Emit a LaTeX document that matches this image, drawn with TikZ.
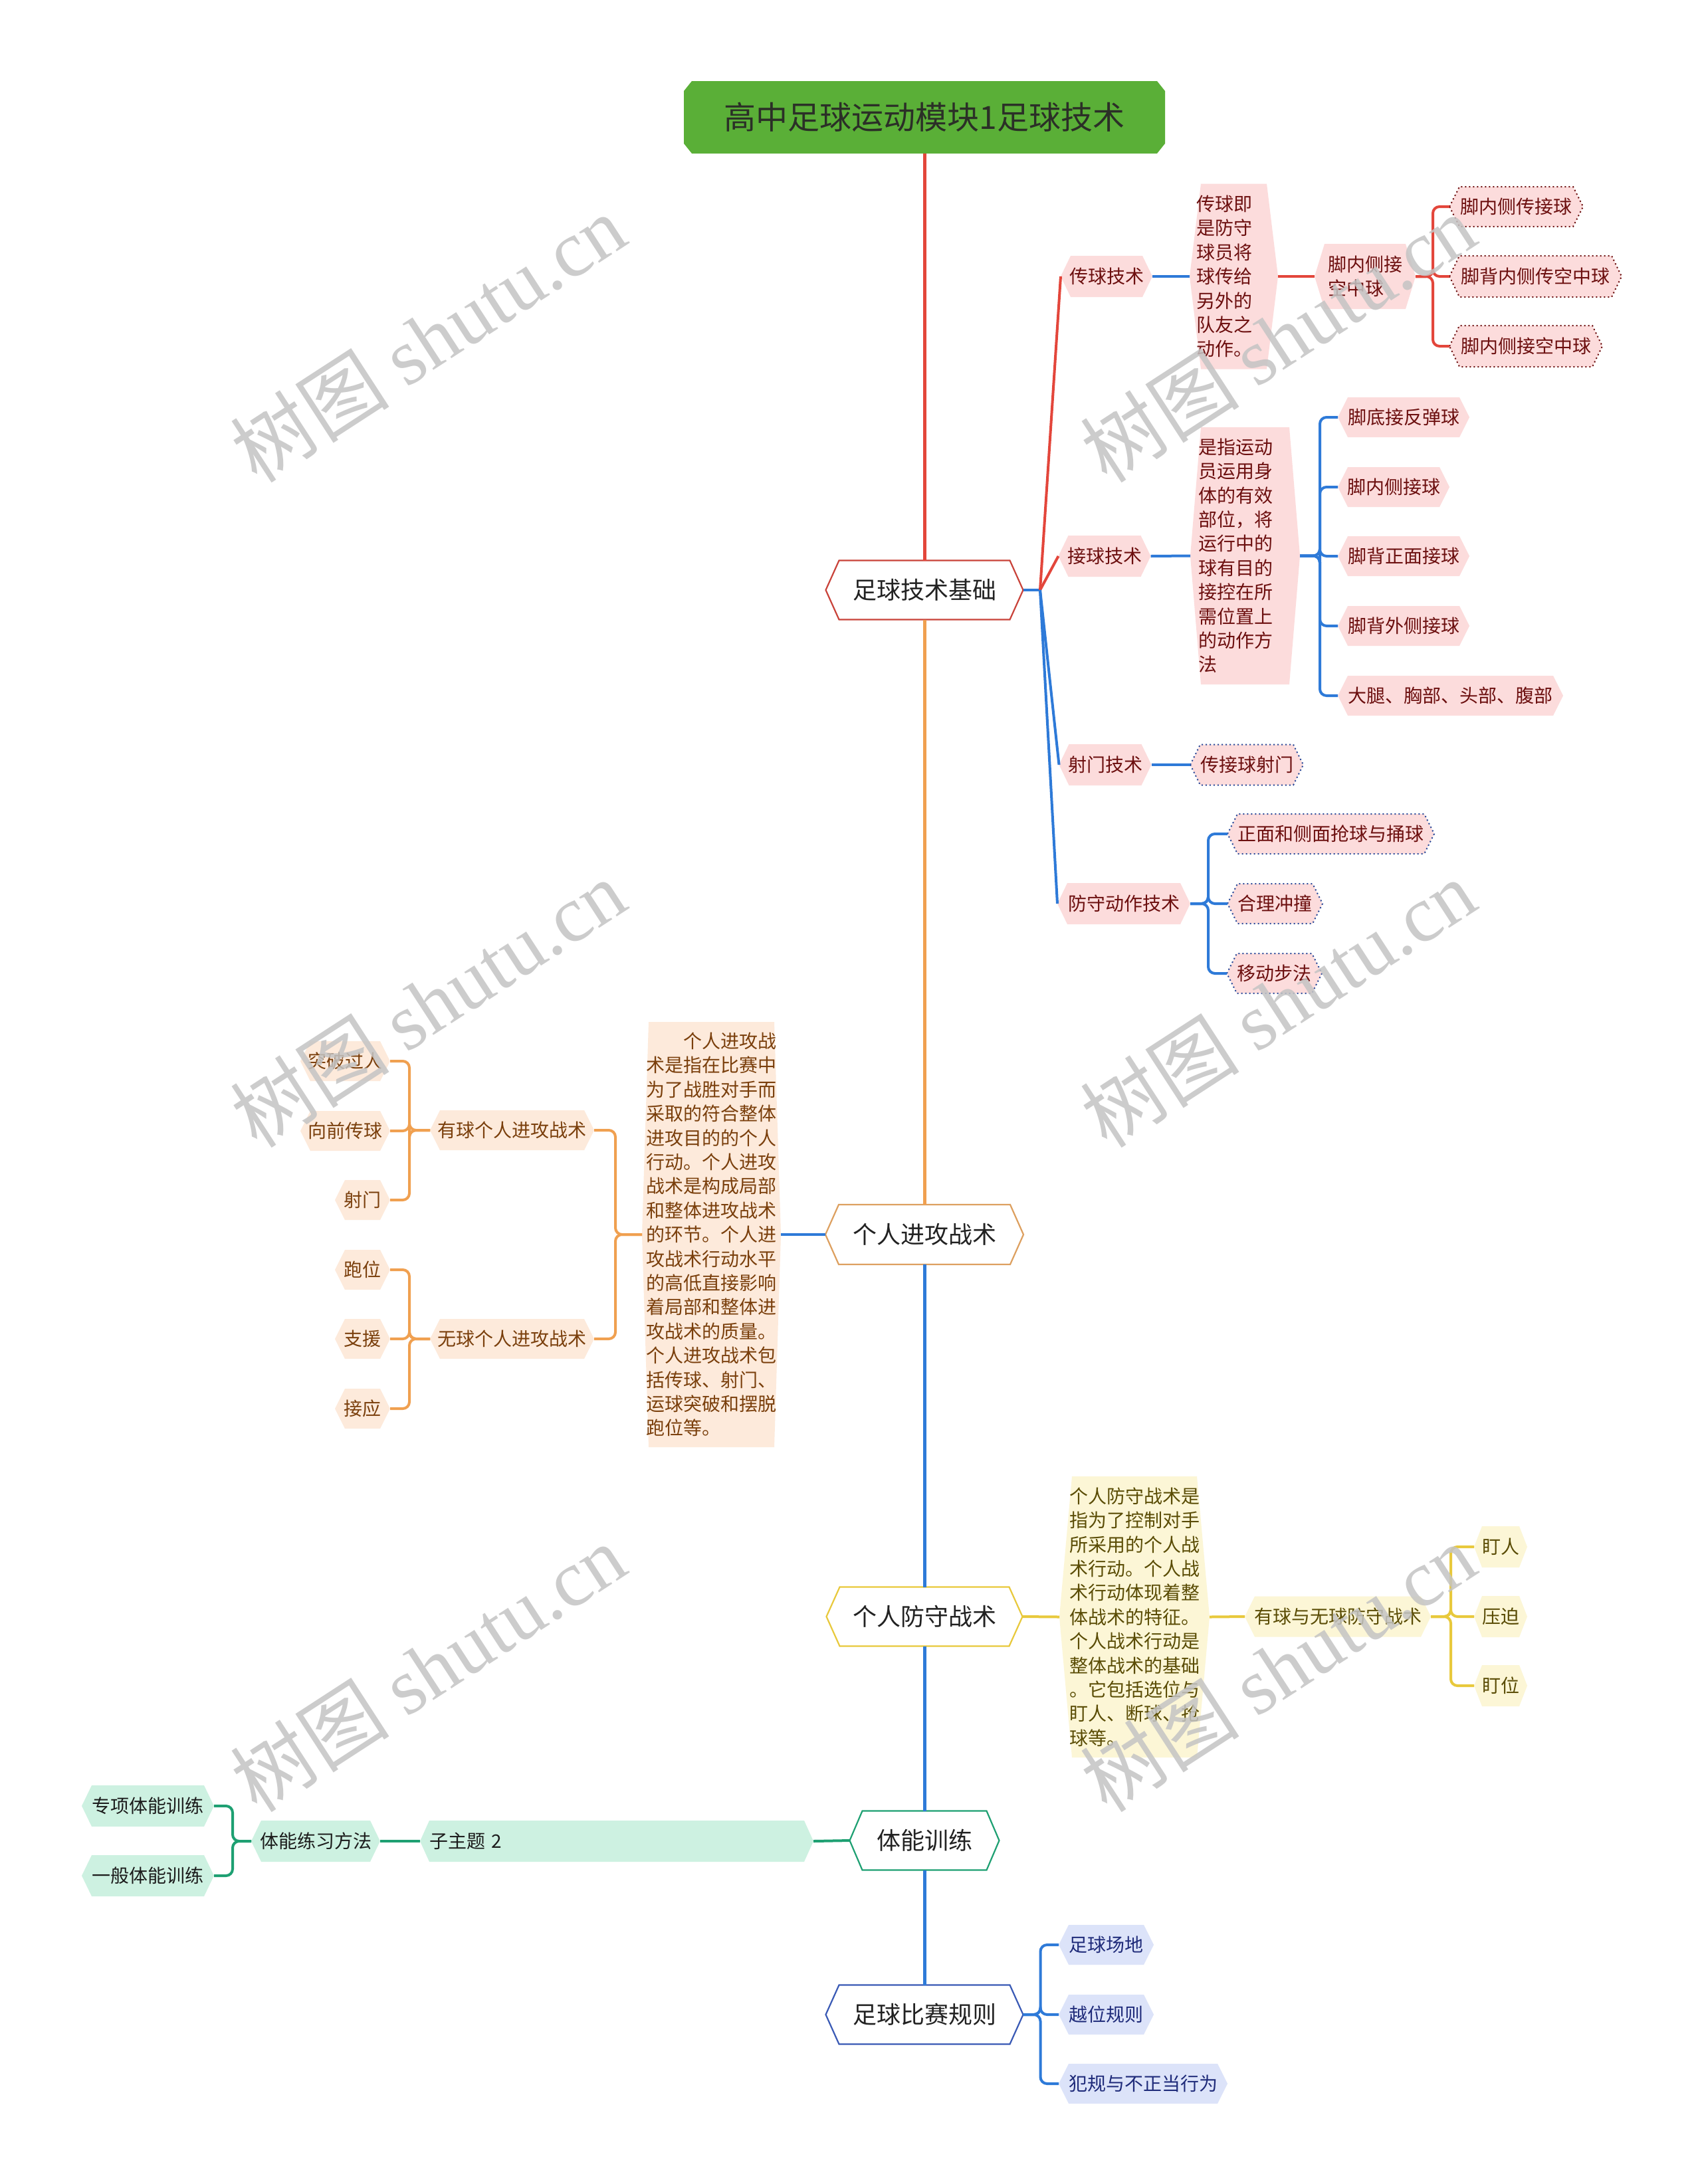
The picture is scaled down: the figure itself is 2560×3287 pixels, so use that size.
\documentclass[tikz,border=0pt]{standalone}
\usepackage{fontspec}
\setmainfont{Noto Sans CJK SC}
\newfontfamily\wmserif{Liberation Serif}
\usetikzlibrary{calc}

\definecolor{cRed}{HTML}{E3463B}
\definecolor{cRedB}{HTML}{C9433A}
\definecolor{cOrange}{HTML}{F0A050}
\definecolor{cOrangeB}{HTML}{DDA060}
\definecolor{cBlue}{HTML}{2E7AD8}
\definecolor{cYellow}{HTML}{E8C93C}
\definecolor{cGreen}{HTML}{1EA072}
\definecolor{cNavyB}{HTML}{3A5AB5}
\definecolor{titleGreen}{HTML}{5AAF37}
\definecolor{titleText}{HTML}{2B2F27}
\definecolor{txtMain}{HTML}{222222}
\definecolor{pkFill}{HTML}{FCDCDC}
\definecolor{pkText}{HTML}{6C0F0F}
\definecolor{pkDotB}{HTML}{2A4A9A}
\definecolor{peFill}{HTML}{FDEADB}
\definecolor{peText}{HTML}{7A3F0C}
\definecolor{yeFill}{HTML}{FCF6D6}
\definecolor{yeText}{HTML}{5A4C05}
\definecolor{miFill}{HTML}{CDF1E1}
\definecolor{miText}{HTML}{1C1C1C}
\definecolor{laFill}{HTML}{DCE3F9}
\definecolor{laText}{HTML}{1F2B7A}
\definecolor{wmGray}{HTML}{C4C4C4}

% #1 extra node options, #2 type, #3 name, #4 x, #5 y, #6 w(px), #7 h(px), #8 inset(px), #9 text
\newcommand\hexnode[9][]{%
  \pgfmathsetmacro\hxW{#6/2}\pgfmathsetmacro\hxH{#7/2}%
  \pgfmathsetmacro\hxWpt{#6*0.25}\pgfmathsetmacro\hxHpt{#7*0.25}%
  \path[#2 shape] ({#4-\hxW},#5) -- ({#4-\hxW+#8},{#5-\hxH}) -- ({#4+\hxW-#8},{#5-\hxH}) -- ({#4+\hxW},#5) -- ({#4+\hxW-#8},{#5+\hxH}) -- ({#4-\hxW+#8},{#5+\hxH}) -- cycle;%
  \node[#2, minimum width=\hxWpt pt, minimum height=\hxHpt pt, #1] (#3) at (#4,#5) {#9};%
}

\begin{document}
\begin{tikzpicture}[x=0.25pt, y=-0.25pt,
  nd/.style={inner sep=0pt, outer sep=0pt, align=center},
  mainT/.style={nd, font=\fontsize{9}{11}\selectfont, text=txtMain},
  mainR/.style={mainT}, mainR shape/.style={fill=white, draw=cRedB, line width=0.55pt},
  mainO/.style={mainT}, mainO shape/.style={fill=white, draw=cOrangeB, line width=0.55pt},
  mainY/.style={mainT}, mainY shape/.style={fill=white, draw=cYellow, line width=0.55pt},
  mainG/.style={mainT}, mainG shape/.style={fill=white, draw=cGreen, line width=0.55pt},
  mainB/.style={mainT}, mainB shape/.style={fill=white, draw=cNavyB, line width=0.55pt},
  sub/.style={nd, font=\fontsize{7}{9.1}\selectfont},
  pk/.style={sub, text=pkText}, pk shape/.style={fill=pkFill},
  pkr/.style={sub, text=pkText}, pkr shape/.style={fill=pkFill, draw=pkText, densely dotted, line width=0.5pt},
  pkb/.style={sub, text=pkText}, pkb shape/.style={fill=pkFill, draw=pkDotB, densely dotted, line width=0.5pt},
  pe/.style={sub, text=peText}, pe shape/.style={fill=peFill},
  ye/.style={sub, text=yeText}, ye shape/.style={fill=yeFill},
  mi/.style={sub, text=miText}, mi shape/.style={fill=miFill},
  la/.style={sub, text=laText}, la shape/.style={fill=laFill},
  link/.style={line width=1pt, rounded corners=2.5pt},
  spine/.style={line width=1.25pt},
  wm/.style={rotate=33, text=wmGray, opacity=0.85, inner sep=0pt, font=\fontsize{30}{30}\selectfont}
]
\fill[white] (0,0) rectangle (2560,3287);
\useasboundingbox (0,0) rectangle (2560,3287);

% title
\path[fill=titleGreen] (1029,137) -- (1041,122) -- (1741,122) -- (1753,137) -- (1753,216) -- (1741,231) -- (1041,231) -- (1029,216) -- cycle;
\node[nd, text=titleText, font=\fontsize{12}{14}\selectfont, minimum width=181pt, minimum height=27.25pt] (root) at (1391,176.5) {高中足球运动模块1足球技术};

% main topics
\hexnode{mainR}{tech}{1391}{888}{297}{89}{20}{足球技术基础}
\hexnode{mainO}{atk}{1391}{1858}{298}{90}{20}{个人进攻战术}
\hexnode{mainY}{def}{1391}{2433}{295}{89}{20}{个人防守战术}
\hexnode{mainG}{fit}{1391}{2770}{225}{89}{19}{体能训练}
\hexnode{mainB}{rule}{1391}{3032}{297}{89}{20}{足球比赛规则}

% technique branch
\hexnode{pk}{pass}{1665}{416}{138}{62}{15}{传球技术}
\hexnode{pk}{recv}{1662}{837}{139}{62}{15}{接球技术}
\hexnode{pk}{shoot}{1663}{1151}{139}{62}{15}{射门技术}
\hexnode{pk}{defm}{1691}{1360}{200}{62}{15}{防守动作技术}

\hexnode[text width=28pt, align=left]{pk}{passd}{1856.5}{416}{133}{279}{17}{传球即\\是防守\\球员将\\球传给\\另外的\\队友之\\动作。}
\hexnode[text width=28pt, align=left]{pk}{kick}{2054}{416}{152}{98}{15}{脚内侧接\\空中球}
\hexnode{pkr}{k1}{2281.5}{311}{201}{60}{15}{脚内侧传接球}
\hexnode{pkr}{k2}{2310.5}{416}{259}{62}{15}{脚背内侧传空中球}
\hexnode{pkr}{k3}{2296}{521}{230}{62}{15}{脚内侧接空中球}

\hexnode[text width=35pt, align=left]{pk}{recvd}{1873.5}{836.5}{165}{387}{16}{是指运动\\员运用身\\体的有效\\部位，将\\运行中的\\球有目的\\接控在所\\需位置上\\的动作方\\法}
\hexnode{pk}{r1}{2112}{628}{198}{60}{15}{脚底接反弹球}
\hexnode{pk}{r2}{2097}{733}{168}{60}{15}{脚内侧接球}
\hexnode{pk}{r3}{2112}{837}{198}{60}{15}{脚背正面接球}
\hexnode{pk}{r4}{2112}{942}{198}{60}{15}{脚背外侧接球}
\hexnode{pk}{r5}{2182.5}{1047}{339}{60}{15}{大腿、胸部、头部、腹部}

\hexnode{pkb}{s1}{1876}{1151}{170}{61}{15}{传接球射门}
\hexnode{pkb}{d1}{2002.5}{1255}{311}{60}{15}{正面和侧面抢球与捅球}
\hexnode{pkb}{d2}{1918.5}{1360}{143}{60}{15}{合理冲撞}
\hexnode{pkb}{d3}{1917.5}{1465}{143}{60}{15}{移动步法}

% attack branch
\hexnode[text width=49pt, align=left]{pe}{atkd}{1070.5}{1858}{209}{640}{10}{\hspace*{14pt}个人进攻战\\术是指在比赛中\\为了战胜对手而\\采取的符合整体\\进攻目的的个人\\行动。个人进攻\\战术是构成局部\\和整体进攻战术\\的环节。个人进\\攻战术行动水平\\的高低直接影响\\着局部和整体进\\攻战术的质量。\\个人进攻战术包\\括传球、射门、\\运球突破和摆脱\\跑位等。}
\hexnode{pe}{a1}{770.5}{1701}{247}{60}{15}{有球个人进攻战术}
\hexnode{pe}{a2}{770.5}{2015}{247}{60}{15}{无球个人进攻战术}
\hexnode{pe}{a11}{519.5}{1597}{135}{60}{15}{突破过人}
\hexnode{pe}{a12}{519.5}{1702}{135}{60}{15}{向前传球}
\hexnode{pe}{a13}{545.5}{1806}{83}{60}{15}{射门}
\hexnode{pe}{a21}{545.5}{1911}{83}{60}{15}{跑位}
\hexnode{pe}{a22}{545.5}{2015}{83}{60}{15}{支援}
\hexnode{pe}{a23}{545.5}{2120}{83}{60}{15}{接应}

% defence branch
\hexnode[text width=49pt, align=left]{ye}{defd}{1707}{2433.5}{226}{423}{19}{个人防守战术是\\指为了控制对手\\所采用的个人战\\术行动。个人战\\术行动体现着整\\体战术的特征。\\个人战术行动是\\整体战术的基础\\。它包括选位与\\盯人、断球、抢\\球等。}
\hexnode{ye}{db}{2013}{2433}{280}{61}{15}{有球与无球防守战术}
\hexnode{ye}{y1}{2258}{2328}{80}{62}{12}{盯人}
\hexnode{ye}{y2}{2258}{2433}{80}{62}{12}{压迫}
\hexnode{ye}{y3}{2258}{2537}{80}{62}{12}{盯位}

% fitness branch
\hexnode[text width=141pt, align=left]{mi}{sub2}{928}{2771}{592}{62}{14}{子主题 2}
\hexnode{mi}{fm}{475}{2771}{194}{62}{15}{体能练习方法}
\hexnode{mi}{g1}{222.5}{2718}{199}{62}{15}{专项体能训练}
\hexnode{mi}{g2}{222.5}{2823}{199}{62}{15}{一般体能训练}

% rules branch
\hexnode{la}{b1}{1664.5}{2927}{143}{60}{15}{足球场地}
\hexnode{la}{b2}{1664.5}{3032}{143}{60}{15}{越位规则}
\hexnode{la}{b3}{1720}{3136}{254}{60}{15}{犯规与不正当行为}

% spine
\draw[spine, cRed] (root.south) -- (tech.north);
\draw[spine, cOrange] (tech.south) -- (atk.north);
\draw[spine, cBlue] (atk.south) -- (def.north);
\draw[spine, cBlue] (def.south) -- (fit.north);
\draw[spine, cBlue] (fit.south) -- (rule.north);

% technique connectors
\coordinate (tb) at (1565,888);
\draw[link, cBlue] (tech.east) -- (tb);
\draw[link, cRed] (tb) -- (pass.west);
\draw[link, cRed] (tb) -- (recv.west);
\draw[link, cBlue] (tb) -- (shoot.west);
\draw[link, cBlue] (tb) -- (defm.west);
\draw[link, cBlue] (pass.east) -- (passd.west);
\draw[link, cRed] (passd.east) -- (kick.west);
\foreach \ch in {k1,k2,k3} \draw[link, cRed] (kick.east) -- ++(26,0) |- (\ch.west);
\draw[link, cBlue] (recv.east) -- (recvd.west);
\foreach \ch in {r1,r2,r3,r4,r5} \draw[link, cBlue] (recvd.east) -- ++(30,0) |- (\ch.west);
\draw[link, cBlue] (shoot.east) -- (s1.west);
\foreach \ch in {d1,d2,d3} \draw[link, cBlue] (defm.east) -- ++(27,0) |- (\ch.west);

% attack connectors
\draw[link, cBlue] (atk.west) -- (atkd.east);
\foreach \ch in {a1,a2} \draw[link, cOrange] (atkd.west) -- ++(-40,0) |- (\ch.east);
\foreach \ch in {a11,a12,a13} \draw[link, cOrange] (a1.west) -- ++(-31,0) |- (\ch.east);
\foreach \ch in {a21,a22,a23} \draw[link, cOrange] (a2.west) -- ++(-31,0) |- (\ch.east);

% defence connectors
\draw[link, cYellow] (def.east) -- (defd.west);
\draw[link, cYellow] (defd.east) -- (db.west);
\foreach \ch in {y1,y2,y3} \draw[link, cYellow] (db.east) -- ++(30,0) |- (\ch.west);

% fitness connectors
\draw[link, cGreen] (fit.west) -- (sub2.east);
\draw[link, cGreen] (sub2.west) -- (fm.east);
\foreach \ch in {g1,g2} \draw[link, cGreen] (fm.west) -- ++(-28,0) |- (\ch.east);

% rules connectors
\foreach \ch in {b1,b2,b3} \draw[link, cBlue] (rule.east) -- ++(26,0) |- (\ch.west);

% watermarks
\foreach \wx/\wy [count=\i] in {644/509, 1923/509, 644/1510, 1923/1510, 644/2510, 1923/2510}
  \node[wm] (wm\i) at (\wx,\wy) {树图 {\wmserif shutu.cn}};
\end{tikzpicture}
\end{document}
